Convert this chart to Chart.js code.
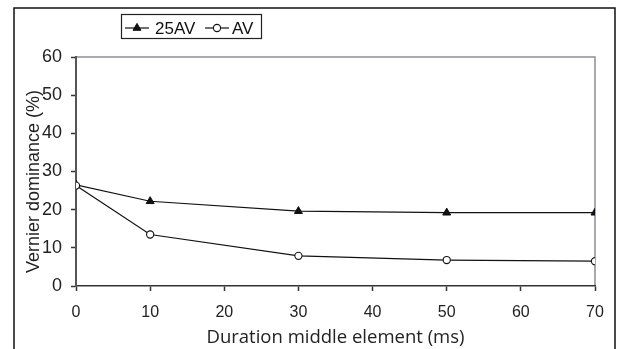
<!DOCTYPE html>
<html><head><meta charset="utf-8">
<script src="https://cdn.jsdelivr.net/npm/chart.js@4"></script>
<style>html,body{margin:0;padding:0;background:#fff}#wrap{width:618px;height:349px}</style>
</head><body><div id="wrap"><canvas id="c" width="618" height="349"></canvas></div>
<script>
const durations = [0, 10, 30, 50, 70];
const av25 = [26.5, 22.2, 19.6, 19.2, 19.2];
const av = [26.3, 13.5, 7.9, 6.8, 6.5];
const seriesLabels = ['25AV', 'AV'];
const xTitle = 'Duration middle element (ms)';
const yTitle = 'Vernier dominance (%)';

const frame = {
  id: 'frame',
  beforeDraw(chart) {
    const ctx = chart.ctx;
    ctx.save();
    ctx.fillStyle = '#fff';
    ctx.fillRect(0, 0, chart.width, chart.height);
    ctx.strokeStyle = '#111';
    ctx.lineWidth = 1.5;
    ctx.beginPath();
    ctx.moveTo(14, 349); ctx.lineTo(14, 8); ctx.lineTo(615, 8); ctx.lineTo(615, 349);
    ctx.stroke();
    const a = chart.chartArea;
    ctx.strokeStyle = '#8a9098';
    ctx.lineWidth = 1.5;
    ctx.beginPath();
    ctx.moveTo(a.left, a.top); ctx.lineTo(a.right, a.top); ctx.lineTo(a.right, a.bottom);
    ctx.stroke();
    ctx.restore();
  },
  afterDraw(chart) {
    const ctx = chart.ctx;
    ctx.save();
    // y axis title
    ctx.translate(34, 181.5);
    ctx.rotate(-Math.PI / 2);
    ctx.fillStyle = '#222';
    ctx.font = '18px "Liberation Sans", Arial, sans-serif';
    ctx.textAlign = 'center';
    ctx.textBaseline = 'middle';
    ctx.fillText(yTitle, 0, 0);
    ctx.restore();

    ctx.save();
    ctx.strokeStyle = '#222';
    ctx.lineWidth = 1.2;
    ctx.strokeRect(121.5, 14.5, 140, 24);
    const items = [
      {x0: 125, x1: 149, textX: 155},
      {x0: 205, x1: 229, textX: 232}
    ];
    const ly = 28;
    chart.data.datasets.forEach((ds, i) => {
      const it = items[i];
      ctx.strokeStyle = '#111';
      ctx.lineWidth = 1.2;
      ctx.beginPath(); ctx.moveTo(it.x0, ly); ctx.lineTo(it.x1, ly); ctx.stroke();
      ctx.fillStyle = ds.pointBackgroundColor;
      ctx.strokeStyle = ds.pointBorderColor;
      ctx.lineWidth = ds.pointBorderWidth;
      Chart.helpers.drawPoint(ctx, {pointStyle: ds.pointStyle, radius: ds.pointRadius, rotation: 0, borderWidth: ds.pointBorderWidth}, (it.x0 + it.x1) / 2, ly);
      ctx.fillStyle = '#111';
      ctx.font = '17px "Liberation Sans", Arial, sans-serif';
      ctx.textBaseline = 'middle';
      ctx.textAlign = 'left';
      ctx.fillText(ds.label, it.textX, 29);
    });
    ctx.restore();
  }
};

new Chart(document.getElementById('c'), {
  type: 'line',
  data: {
    datasets: [
      {
        label: seriesLabels[0],
        data: durations.map((d, i) => ({x: d, y: av25[i]})),
        borderColor: '#111', borderWidth: 1.2,
        pointStyle: 'triangle', pointRadius: 4.6,
        pointBackgroundColor: '#111', pointBorderColor: '#111', pointBorderWidth: 1,
        order: 1, tension: 0
      },
      {
        label: seriesLabels[1],
        data: durations.map((d, i) => ({x: d, y: av[i]})),
        borderColor: '#111', borderWidth: 1.2,
        pointStyle: 'circle', pointRadius: 3.6,
        pointBackgroundColor: '#fff', pointBorderColor: '#111', pointBorderWidth: 1.1,
        order: 0, tension: 0
      }
    ]
  },
  options: {
    responsive: false,
    animation: false,
    devicePixelRatio: 1,
    layout: {padding: {left: 0, top: 57, right: 23, bottom: 0}},
    plugins: {legend: {display: false}, tooltip: {enabled: false}},
    scales: {
      x: {
        type: 'linear', min: 0, max: 70,
        afterFit: s => { s.height = 63; },
        ticks: {stepSize: 10, color: '#222', padding: 12, font: {family: '"Liberation Sans", Arial, sans-serif', size: 16}},
        grid: {drawOnChartArea: false, drawTicks: true, tickLength: 5, color: '#333', tickColor: '#333', tickWidth: 1.5},
        border: {color: '#333', width: 1.5},
        title: {display: true, text: xTitle, color: '#222', font: {family: '"Open Sans", sans-serif', size: 18.5}, padding: {top: 7, bottom: 0}}
      },
      y: {
        min: 0, max: 60,
        afterFit: s => { s.width = 76; },
        ticks: {stepSize: 10, color: '#222', padding: 9, font: {family: '"Liberation Sans", Arial, sans-serif', size: 18}},
        grid: {drawOnChartArea: false, drawTicks: true, tickLength: 5, color: '#333', tickColor: '#333', tickWidth: 1.5},
        border: {color: '#555', width: 2},
        title: {display: false, text: yTitle}
      }
    }
  },
  plugins: [frame]
});
</script>
</body></html>
